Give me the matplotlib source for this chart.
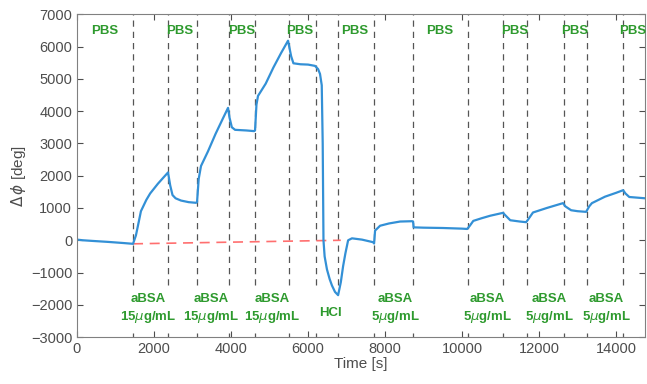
import numpy as np
import matplotlib.pyplot as plt

plt.rcParams['font.family'] = ['Liberation Sans', 'DejaVu Sans']

# measured phase trace
time_s = [0, 150, 400, 800, 1200, 1455, 1530, 1600, 1660, 1720, 1800, 1900, 2000, 2100,
          2250, 2364, 2420, 2480, 2560, 2700, 2900, 3090, 3117, 3160, 3220, 3400, 3600,
          3800, 3922, 3960, 4020, 4104, 4400, 4600, 4623, 4660, 4700, 4900, 5100, 5300,
          5480, 5560, 5620, 5800, 6000, 6180, 6260, 6310, 6355, 6380, 6400, 6430, 6490,
          6560, 6620, 6700, 6780, 6850, 6910, 6970, 7040, 7140, 7400, 7690, 7714, 7740,
          7870, 8100, 8390, 8700, 8727, 8740, 9000, 9500, 10000, 10130, 10200, 10290,
          10500, 10730, 11065, 11100, 11250, 11500, 11660, 11700, 11840, 12200, 12620,
          12680, 12830, 13000, 13220, 13300, 13370, 13710, 14000, 14180, 14240, 14340,
          14750]
phase_deg = [20, 0, -20, -50, -85, -110, 150, 550, 900, 1050, 1250, 1450, 1600, 1750,
             1950, 2100, 1700, 1400, 1300, 1230, 1180, 1160, 1180, 1900, 2300, 2750, 3300,
             3800, 4100, 3800, 3500, 3420, 3400, 3380, 3400, 4200, 4470, 4850, 5350, 5800,
             6180, 5700, 5480, 5450, 5440, 5400, 5300, 5150, 4800, 3000, 0, -500, -900,
             -1200, -1400, -1600, -1700, -1300, -800, -400, 0, 60, 20, -60, -100, 300,
             450, 520, 580, 590, 580, 400, 390, 380, 360, 350, 450, 600,
             680, 760, 850, 800, 620, 580, 560, 620, 860, 1000, 1150,
             1050, 930, 900, 880, 1050, 1150, 1350, 1470, 1550, 1450, 1340,
             1300]

# baseline drift
baseline_t = [1455, 6850]
baseline_y = [-110, 0]

# solution changes
event_times = [1455, 2364, 3117, 3948, 4623, 5506, 6208, 6779, 7714, 8727,
               10156, 11065, 11688, 12649, 13247, 14182]

pbs_x = [727, 2675, 4286, 5792, 7220, 9430, 11377, 12935, 14420]

absa_x = [1844, 3480, 5065, 8260, 10650, 12260, 13740]
absa_conc = ['15', '15', '15', '5', '5', '5', '5']
hcl_x = 6571

green = '#2e9a2e'
gray = '#808080'

fig, ax = plt.subplots(figsize=(6.47, 3.84), dpi=100)
fig.subplots_adjust(left=0.119, right=0.997, top=0.963, bottom=0.122)

# dashed markers stop above the bottom labels, small stubs at the axis
ax.vlines(event_times, -1400, 7000, color='#555555', linestyle=(0, (5, 4)), linewidth=0.9)
ax.vlines(event_times, -3000, -2880, color='#555555', linewidth=0.9)

ax.plot(baseline_t, baseline_y, color='#ff6f6f', linestyle=(0, (6, 4)), linewidth=1.2)
ax.plot(time_s, phase_deg, color='#3390d6', linewidth=1.6)

for x in pbs_x:
    ax.text(x, 6480, 'PBS', color=green, fontweight='bold', fontsize=9.5,
            ha='center', va='center')
for x, c in zip(absa_x, absa_conc):
    ax.text(x, -1830, 'aBSA', color=green, fontweight='bold', fontsize=9.5,
            ha='center', va='center')
    ax.text(x, -2390, c + r'$\mu$g/mL', color=green, fontweight='bold', fontsize=9.5,
            ha='center', va='center')
ax.text(hcl_x, -2260, 'HCl', color=green, fontweight='bold', fontsize=9.5,
        ha='center', va='center')

ax.set_xlim(0, 14750)
ax.set_ylim(-3000, 7000)
ax.set_xticks(np.arange(0, 14001, 2000))
ax.set_yticks(np.arange(-3000, 7001, 1000))
ax.tick_params(direction='in', top=True, right=True, colors='#4d4d4d',
               labelsize=10.5, length=4, width=0.8)
for s in ax.spines.values():
    s.set_color(gray)
    s.set_linewidth(0.8)

ax.set_xlabel('Time [s]', fontsize=11, color='#4d4d4d', labelpad=1)
ax.set_ylabel(r'$\Delta\,\phi$ [deg]', fontsize=11, color='#4d4d4d', labelpad=2)

fig.savefig('out.png')
plt.close()
